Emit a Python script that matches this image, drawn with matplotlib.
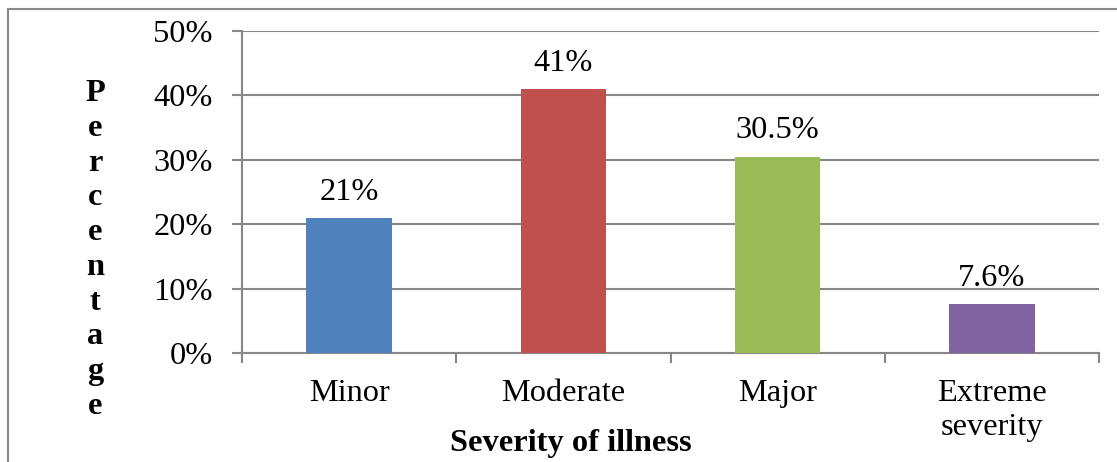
import matplotlib.pyplot as plt
from matplotlib.patches import Rectangle
from matplotlib.ticker import FixedLocator, PercentFormatter

plt.rcParams['font.family'] = ['Liberation Serif', 'DejaVu Serif']

categories = ["Minor", "Moderate", "Major", "Extreme\nseverity"]
values = [21, 41, 30.5, 7.6]
value_labels = ["21%", "41%", "30.5%", "7.6%"]
colors = ["#4F81BD", "#C0504D", "#9BBB59", "#8064A2"]

grey = "#878787"
fs = 23.3

fig = plt.figure(figsize=(11.17, 4.62), dpi=100)
ax = fig.add_axes([242/1117, 1 - 353/462, (1099 - 242)/1117, (353 - 31)/462])

x = range(len(categories))
bars = ax.bar(x, values, width=0.4, color=colors, zorder=3)

for b, lab in zip(bars, value_labels):
    ax.annotate(lab, (b.get_x() + b.get_width()/2, b.get_height()),
                xytext=(0, 8), textcoords="offset points",
                ha="center", va="bottom", fontsize=fs)

ax.set_xlim(-0.5, len(categories) - 0.5)
ax.set_ylim(0, 50)
ax.set_yticks(range(0, 51, 10))
ax.yaxis.set_major_formatter(PercentFormatter(decimals=0))
ax.grid(axis="y", color=grey, linewidth=1.5, zorder=0)

ax.set_xticks(list(x))
ax.set_xticklabels(categories, fontsize=fs, linespacing=1.2)
ax.xaxis.set_minor_locator(FixedLocator([i - 0.5 for i in range(len(categories) + 1)]))
ax.tick_params(axis="x", which="major", length=0, pad=19)
ax.tick_params(axis="x", which="minor", length=7, width=1.5, color=grey, direction="out")
ax.tick_params(axis="y", length=7, width=1.5, color=grey, direction="out", pad=14, labelsize=fs)

for side in ["top", "right"]:
    ax.spines[side].set_visible(False)
for side in ["left", "bottom"]:
    ax.spines[side].set_color(grey)
    ax.spines[side].set_linewidth(1.5)

# vertical stacked y label and x label
fig.text(95/1117, 1 - 250/462, "\n".join("Percentage"), ha="center", va="center",
         fontsize=fs, fontweight="bold", linespacing=1.26)
fig.text(571/1117, 1 - 443/462, "Severity of illness", ha="center", va="center",
         fontsize=fs, fontweight="bold")

# outer frame
fig.patches.append(Rectangle((8/1117, -0.05), 1.2, 1 - 9/462 + 0.05,
                             transform=fig.transFigure, fill=False,
                             edgecolor=grey, linewidth=1.5))

fig.savefig("out.png", dpi=100)
